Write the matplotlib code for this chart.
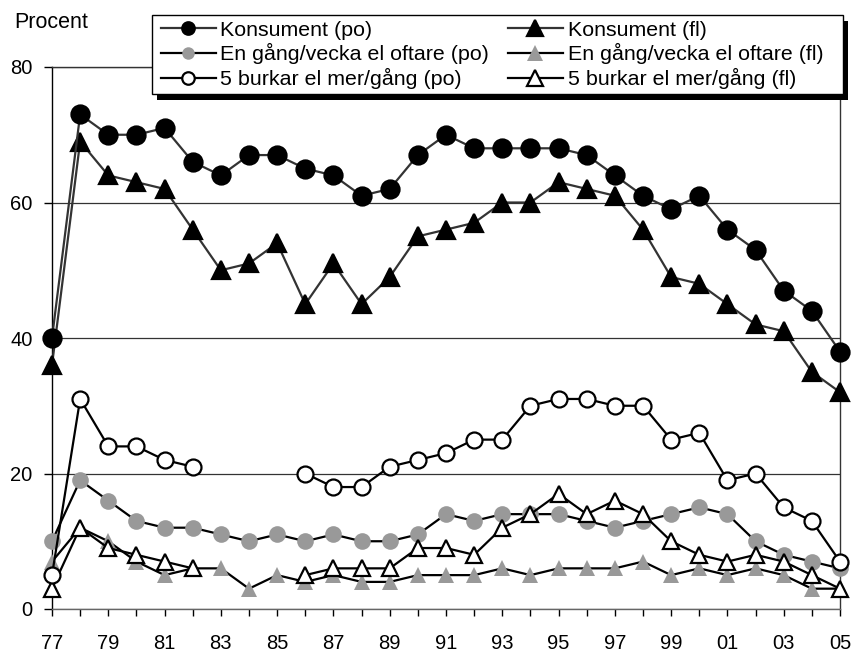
import matplotlib
matplotlib.use("Agg")
import matplotlib.pyplot as plt
import numpy as np
from matplotlib.patches import Rectangle

plt.rcParams["font.family"] = ["Liberation Sans", "DejaVu Sans"]

years = ["77", "78", "79", "80", "81", "82", "83", "84", "85", "86", "87", "88", "89", "90",
         "91", "92", "93", "94", "95", "96", "97", "98", "99", "00", "01", "02", "03", "04", "05"]
nan = np.nan

kons_po = [40, 73, 70, 70, 71, 66, 64, 67, 67, 65, 64, 61, 62, 67,
           70, 68, 68, 68, 68, 67, 64, 61, 59, 61, 56, 53, 47, 44, 38]
kons_fl = [36, 69, 64, 63, 62, 56, 50, 51, 54, 45, 51, 45, 49, 55,
           56, 57, 60, 60, 63, 62, 61, 56, 49, 48, 45, 42, 41, 35, 32]
vecka_po = [10, 19, 16, 13, 12, 12, 11, 10, 11, 10, 11, 10, 10, 11,
            14, 13, 14, 14, 14, 13, 12, 13, 14, 15, 14, 10, 8, 7, 6]
vecka_fl = [7, 12, 10, 7, 5, 6, 6, 3, 5, 4, 5, 4, 4, 5,
            5, 5, 6, 5, 6, 6, 6, 7, 5, 6, 5, 6, 5, 3, 3]
burk_po = [5, 31, 24, 24, 22, 21, nan, nan, nan, 20, 18, 18, 21, 22,
           23, 25, 25, 30, 31, 31, 30, 30, 25, 26, 19, 20, 15, 13, 7]
burk_fl = [3, 12, 9, 8, 7, 6, nan, nan, nan, 5, 6, 6, 6, 9,
           9, 8, 12, 14, 17, 14, 16, 14, 10, 8, 7, 8, 7, 5, 3]

GRAY = "#999999"
x = np.arange(len(years))

fig = plt.figure(figsize=(8.53, 6.52), dpi=100)
ax = fig.add_axes([52 / 853, 43 / 652, 788 / 853, 542 / 652])

# (values, label, marker, face, line colour, marker size, z)
series = [
    (vecka_po, "En gång/vecka el oftare (po)", "o", GRAY, "black", 12, 3),
    (vecka_fl, "En gång/vecka el oftare (fl)", "^", GRAY, "black", 12, 3.1),
    (burk_fl, "5 burkar el mer/gång (fl)", "^", "white", "black", 12, 3.2),
    (burk_po, "5 burkar el mer/gång (po)", "o", "white", "black", 11.5, 3.3),
    (kons_fl, "Konsument (fl)", "^", "black", "#333333", 12.5, 3.4),
    (kons_po, "Konsument (po)", "o", "black", "#333333", 13, 3.5),
]
handles = {}
for vals, lab, mk, fc, lc, ms, z in series:
    ec = "none" if fc == GRAY else "black"
    ln, = ax.plot(x, vals, color=lc, lw=1.6, marker=mk, markersize=ms,
                  markerfacecolor=fc, markeredgecolor=ec, markeredgewidth=1.6,
                  zorder=z, clip_on=False, label=lab)
    handles[lab] = ln

ax.set_xlim(0, len(years) - 1)
ax.set_ylim(0, 80)
ax.set_yticks([0, 20, 40, 60, 80])
ax.set_xticks(x)
ax.set_xticklabels([y if i % 2 == 0 else "" for i, y in enumerate(years)])
ax.tick_params(axis="x", direction="out", length=5, width=1, pad=13, labelsize=14.5)
ax.tick_params(axis="y", direction="out", length=6, width=1, pad=8, labelsize=14.5)
ax.grid(axis="y", color="#333333", lw=0.9)
ax.set_axisbelow(True)
for s in ["top", "right"]:
    ax.spines[s].set_color("#333333")
ax.spines["left"].set_color("black")
ax.spines["bottom"].set_color("#666666")
for s in ax.spines.values():
    s.set_linewidth(1)

fig.text(14 / 853, 1 - 23 / 652, "Procent", fontsize=15.5, va="center", ha="left")

# legend box with hard black shadow
bx0, by0, bw, bh = 152 / 853, 1 - 94 / 652, 691 / 853, 79 / 652
fig.patches.append(Rectangle((bx0 + 5 / 853, by0 - 6 / 652), bw, bh, transform=fig.transFigure,
                             facecolor="black", edgecolor="none", zorder=10))
fig.patches.append(Rectangle((bx0, by0), bw, bh, transform=fig.transFigure,
                             facecolor="white", edgecolor="black", lw=1, zorder=11))
order = ["Konsument (po)", "En gång/vecka el oftare (po)", "5 burkar el mer/gång (po)",
         "Konsument (fl)", "En gång/vecka el oftare (fl)", "5 burkar el mer/gång (fl)"]
leg = fig.legend([handles[k] for k in order], order, ncol=2, loc="center left",
                 bbox_to_anchor=(161 / 853, 1 - 55 / 652), frameon=False, fontsize=15.4,
                 handlelength=2.55, handletextpad=0.23, columnspacing=0.88, labelspacing=0.17,
                 borderpad=0, borderaxespad=0)
leg.set_zorder(12)
for h in leg.legend_handles:
    h.set_markersize(12 if h.get_marker() == "^" else 9)

fig.savefig("out.png", dpi=100)
